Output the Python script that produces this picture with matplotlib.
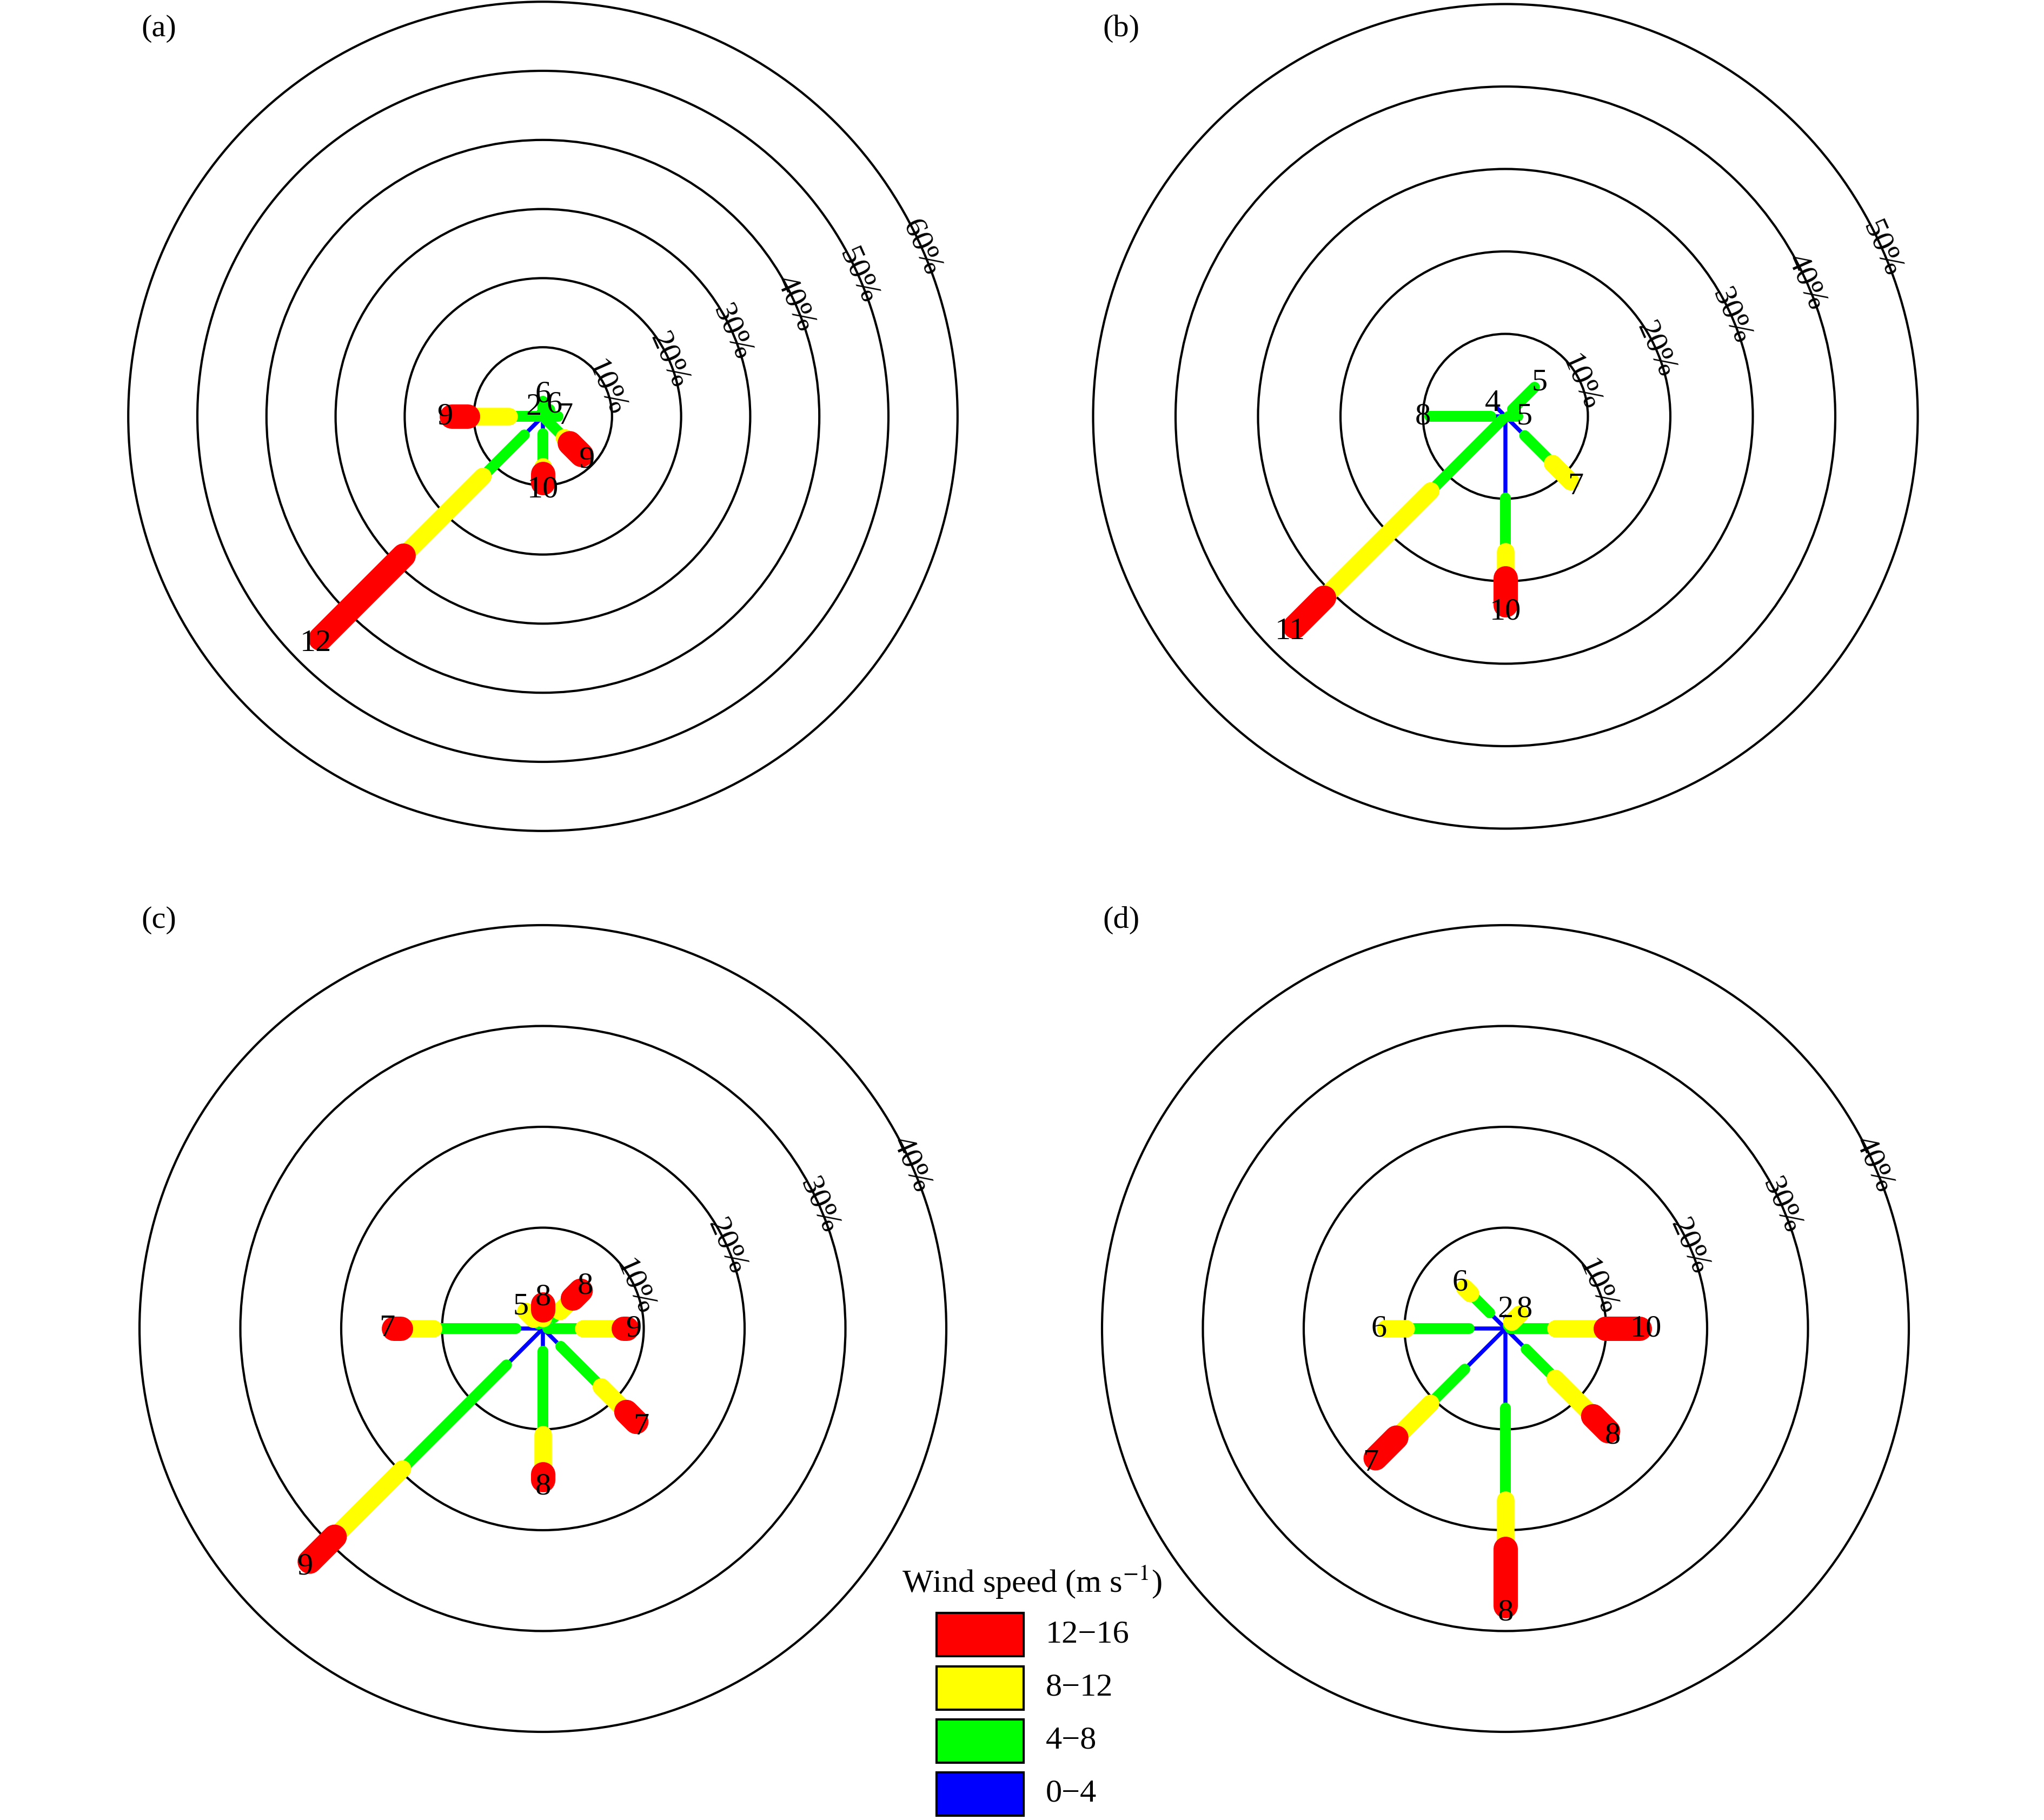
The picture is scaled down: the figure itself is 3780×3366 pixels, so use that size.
import numpy as np
import matplotlib
matplotlib.use("Agg")
import matplotlib.pyplot as plt
from matplotlib.patches import Circle, Rectangle

plt.rcParams["font.family"] = ["Liberation Serif", "DejaVu Serif"]
plt.rcParams["mathtext.fontset"] = "stix"

# directions (compass degrees, clockwise from north)
DIRS = ["N", "NE", "E", "SE", "S", "SW", "W", "NW"]
DIR_ANGLES = [0, 45, 90, 135, 180, 225, 270, 315]

SPEED_BINS = ["0−4", "4−8", "8−12", "12−16"]
BIN_COLORS = ["#0000ff", "#00ff00", "#ffff00", "#ff0000"]
BIN_WIDTHS = [1.8, 4.8, 7.8, 10.8]

# frequency (%) per direction for the bins 0-4, 4-8, 8-12, 12-16
freq_a = [[0.5, 1.7, 0.0, 0.0],
          [0.4, 1.0, 0.0, 0.0],
          [0.5, 1.7, 0.0, 0.0],
          [0.5, 3.9, 1.1, 2.4],
          [2.5, 4.8, 1.0, 1.35],
          [3.8, 8.5, 16.2, 17.0],
          [0.5, 4.4, 6.0, 2.3],
          [0.9, 0.0, 0.0, 0.0]]
labels_a = [6, 6, 7, 9, 10, 12, 9, 2]

freq_b = [[0.0, 0.0, 0.0, 0.0],
          [1.2, 3.8, 0.0, 0.0],
          [0.4, 1.1, 0.0, 0.0],
          [3.3, 4.8, 3.1, 0.0],
          [9.9, 6.5, 3.2, 3.3],
          [0.5, 12.3, 18.3, 5.0],
          [1.8, 7.4, 0.0, 0.0],
          [1.4, 0.0, 0.0, 0.0]]
labels_b = [None, 5, 5, 7, 10, 11, 8, 4]

freq_c = [[0.5, 0.5, 0.8, 0.6],
          [1.5, 0.9, 1.8, 1.1],
          [0.5, 3.5, 4.0, 0.3],
          [2.5, 5.7, 3.5, 1.4],
          [2.25, 8.25, 3.9, 0.6],
          [5.1, 14.6, 9.5, 3.5],
          [2.7, 8.2, 3.2, 0.7],
          [0.6, 0.7, 1.1, 0.0]]
labels_c = [8, 8, 9, 7, 8, 9, 7, 5]

freq_d = [[1.2, 0.0, 0.0, 0.0],
          [0.4, 0.5, 1.1, 0.0],
          [0.5, 4.5, 4.9, 3.4],
          [2.9, 4.1, 5.3, 2.1],
          [7.9, 9.1, 4.8, 5.7],
          [5.7, 4.8, 4.8, 2.9],
          [3.6, 6.25, 2.05, 0.0],
          [2.2, 2.7, 0.8, 0.0]]
labels_d = [2, 8, 10, 8, 8, 7, 6, 6]

rings_a = [10, 20, 30, 40, 50, 60]
rings_b = [10, 20, 30, 40, 50]
rings_c = [10, 20, 30, 40]
rings_d = [10, 20, 30, 40]

W, H = 3780, 3366
FS = 14


def draw_rose(ax, freq, labels, rings):
    for r in rings:
        ax.add_patch(Circle((0, 0), r, fill=False, ec="black", lw=1.0, zorder=1))
        a = np.deg2rad(24)
        ax.text(r * np.cos(a), r * np.sin(a), f"{r}%", rotation=-66,
                rotation_mode="anchor", ha="center", va="center",
                fontsize=FS, zorder=10)
    freq = np.array(freq, dtype=float)
    cum = np.cumsum(freq, axis=1)
    for k in range(len(SPEED_BINS)):
        for d, ang in enumerate(DIR_ANGLES):
            if freq[d, k] <= 0:
                continue
            t = np.deg2rad(ang)
            r0, r1 = cum[d, k] - freq[d, k], cum[d, k]
            ax.plot([r0 * np.sin(t), r1 * np.sin(t)],
                    [r0 * np.cos(t), r1 * np.cos(t)],
                    color=BIN_COLORS[k], lw=BIN_WIDTHS[k],
                    solid_capstyle="round", zorder=2 + k, clip_on=False)
    for d, ang in enumerate(DIR_ANGLES):
        if labels[d] is None:
            continue
        t = np.deg2rad(ang)
        rt = cum[d, -1]
        ax.annotate(str(labels[d]), (rt * np.sin(t), rt * np.cos(t)),
                    xytext=(3 * np.sin(t), 3 * np.cos(t)),
                    textcoords="offset points", ha="center", va="center",
                    fontsize=FS, zorder=12)


fig = plt.figure(figsize=(W / 300, H / 300), dpi=300)

# panel centre (px from top-left) and pixels per percent
panels = [
    ("(a)", freq_a, labels_a, rings_a, (1004, 770), 12.78, (294, 53)),
    ("(b)", freq_b, labels_b, rings_b, (2784, 770), 15.25, (2073, 53)),
    ("(c)", freq_c, labels_c, rings_c, (1004, 2457), 18.65, (294, 1702)),
    ("(d)", freq_d, labels_d, rings_d, (2784, 2457), 18.65, (2073, 1702)),
]
half = 800
for tag, freq, labels, rings, (cx, cy), ppp, (tx, ty) in panels:
    ax = fig.add_axes([(cx - half) / W, 1 - (cy + half) / H, 2 * half / W, 2 * half / H])
    lim = half / ppp
    ax.set_xlim(-lim, lim)
    ax.set_ylim(-lim, lim)
    ax.axis("off")
    ax.patch.set_visible(False)
    draw_rose(ax, freq, labels, rings)
    fig.text(tx / W, 1 - ty / H, tag, ha="center", va="center", fontsize=FS)

# legend
fig.text(1908 / W, 1 - 2925 / H, r"Wind speed (m s$^{-1}$)",
         ha="center", va="center", fontsize=FS + 0.5)
box_tops = [2983, 3082, 3180, 3278]
for i, top in enumerate(box_tops):
    k = len(SPEED_BINS) - 1 - i
    fig.patches.append(Rectangle((1732 / W, 1 - (top + 80) / H), 161 / W, 80 / H,
                                 transform=fig.transFigure, fc=BIN_COLORS[k],
                                 ec="black", lw=1.0))
    fig.text(1934 / W, 1 - (top + 40) / H, SPEED_BINS[k], ha="left",
             va="center", fontsize=FS + 0.5)

fig.savefig("out.png", dpi=300)
plt.close(fig)
